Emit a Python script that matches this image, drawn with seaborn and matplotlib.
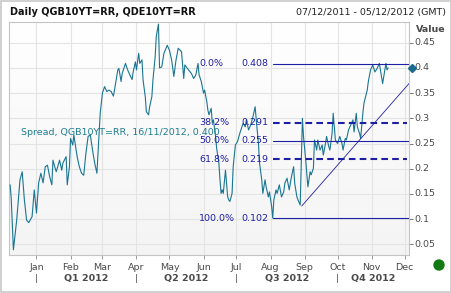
import numpy as np
import pandas as pd
import matplotlib
matplotlib.use("Agg")
import matplotlib.pyplot as plt
import matplotlib.dates as mdates
from matplotlib.colors import LinearSegmentedColormap
from matplotlib.patches import Ellipse, Rectangle
import seaborn as sns

# ---------------- data ----------------
start_date = "2011-12-07"
end_date = "2012-12-05"
day_offsets = [1, 2, 4, 7, 10, 12, 14, 16, 18, 21, 23, 25, 27, 29, 31, 33, 35, 37, 39, 40,
               42, 43, 46, 48, 49, 52, 53, 55, 56, 58, 59, 62, 64, 66, 68, 70, 72, 74, 76, 78,
               80, 82, 83, 85, 87, 89, 91, 93, 95, 96, 99, 100, 102, 103, 105, 106, 108, 110, 112, 113,
               115, 116, 118, 119, 121, 122, 124, 125, 127, 128, 130, 131, 133, 134, 136, 137, 139, 141, 144, 146,
               148, 150, 152, 154, 157, 159, 160, 163, 166, 168, 170, 172, 173, 175, 177, 178, 180, 181, 182, 184,
               185, 186, 188, 189, 191, 192, 193, 194, 195, 197, 198, 199, 200, 201, 203, 204, 206, 208, 210, 213,
               215, 216, 218, 220, 222, 224, 225, 227, 228, 230, 231, 233, 234, 236, 237, 239, 240, 241, 243, 244,
               246, 248, 250, 251, 253, 255, 257, 259, 260, 262, 263, 265, 267, 268, 270, 272, 274, 275, 277, 278,
               280, 281, 283, 285, 286, 288, 289, 291, 292, 294, 295, 296, 297, 299, 301, 303, 304, 306, 307, 309,
               311, 313, 314, 316, 317, 319, 320, 322, 323, 326, 327, 329, 331, 333, 335, 337, 339, 340, 342, 343,
               344, 345]
spread = [0.168, 0.142, 0.039, 0.098, 0.178, 0.194, 0.138, 0.098, 0.093, 0.105, 0.158, 0.112, 0.172, 0.191, 0.172, 0.204, 0.207, 0.184, 0.168, 0.217,
          0.201, 0.194, 0.217, 0.197, 0.211, 0.224, 0.168, 0.204, 0.260, 0.247, 0.267, 0.224, 0.204, 0.191, 0.187, 0.231, 0.264, 0.267, 0.237, 0.211,
          0.191, 0.270, 0.310, 0.350, 0.363, 0.353, 0.356, 0.353, 0.344, 0.356, 0.396, 0.399, 0.373, 0.389, 0.402, 0.409, 0.396, 0.386, 0.377, 0.392,
          0.412, 0.396, 0.429, 0.409, 0.416, 0.376, 0.343, 0.313, 0.307, 0.323, 0.343, 0.376, 0.422, 0.462, 0.487, 0.400, 0.402, 0.429, 0.445, 0.435,
          0.416, 0.383, 0.416, 0.439, 0.432, 0.379, 0.406, 0.397, 0.389, 0.379, 0.386, 0.409, 0.386, 0.373, 0.350, 0.356, 0.333, 0.316, 0.307, 0.320,
          0.290, 0.297, 0.264, 0.240, 0.211, 0.178, 0.151, 0.158, 0.151, 0.197, 0.171, 0.144, 0.138, 0.135, 0.151, 0.204, 0.247, 0.254, 0.270, 0.290,
          0.283, 0.297, 0.277, 0.287, 0.303, 0.323, 0.297, 0.250, 0.211, 0.178, 0.151, 0.178, 0.164, 0.144, 0.154, 0.125, 0.102, 0.138, 0.158, 0.151,
          0.168, 0.144, 0.154, 0.171, 0.181, 0.158, 0.184, 0.204, 0.171, 0.144, 0.138, 0.128, 0.300, 0.264, 0.217, 0.164, 0.194, 0.188, 0.201, 0.257,
          0.237, 0.257, 0.237, 0.247, 0.227, 0.250, 0.264, 0.244, 0.237, 0.270, 0.310, 0.283, 0.257, 0.250, 0.264, 0.250, 0.237, 0.260, 0.257, 0.277,
          0.287, 0.297, 0.273, 0.310, 0.283, 0.270, 0.260, 0.310, 0.330, 0.356, 0.373, 0.396, 0.406, 0.392, 0.399, 0.409, 0.383, 0.369, 0.396, 0.409,
          0.396, 0.400]

fib_levels = [0.408, 0.291, 0.255, 0.219, 0.102]
fib_pct_labels = ["0.0%", "38.2%", "50.0%", "61.8%", "100.0%"]
fib_value_labels = ["0.408", "0.291", "0.255", "0.219", "0.102"]
fib_dashed = [False, True, False, True, False]
fib_start_offset = 240          # day of the low the retracement is anchored to

trend_offsets = [266.4, 364]
trend_values = [0.126, 0.369]

last_value = 0.400
series_label = "Spread, QGB10YT=RR, 16/11/2012, 0.400"
title_left = "Daily QGB10YT=RR, QDE10YT=RR"
title_right = "07/12/2011 - 05/12/2012 (GMT)"
y_ticks = [0.05, 0.10, 0.15, 0.20, 0.25, 0.30, 0.35, 0.40, 0.45]
quarters = ["Q1 2012", "Q2 2012", "Q3 2012", "Q4 2012"]
quarter_starts = ["2012-01-01", "2012-04-01", "2012-07-01", "2012-10-01"]

# ---------------- build frames ----------------
t0 = pd.Timestamp(start_date)
df = pd.DataFrame({"date": t0 + pd.to_timedelta(day_offsets, unit="D"), "spread": spread})
trend_dates = t0 + pd.to_timedelta(trend_offsets, unit="D")
fib_start = t0 + pd.to_timedelta(fib_start_offset, unit="D")
x_end = pd.Timestamp(end_date)

sns.set_style("white")
plt.rcParams["font.family"] = ["DejaVu Sans"]

LINE = "#1a7593"
FIB = "#1f1fa6"
GREY = "#4a4a4a"
FS = 6.8

fig = plt.figure(figsize=(4.52, 2.93), dpi=100, facecolor="white")
ax = fig.add_axes([9 / 452, 38 / 293, 400 / 452, 233 / 293])

# subtle vertical gradient background
cmap = LinearSegmentedColormap.from_list("bg", ["#f4f4f4", "#ffffff"])
grad = np.linspace(0, 1, 100).reshape(-1, 1)
ax.imshow(grad, extent=[0, 1, 0, 1], transform=ax.transAxes, cmap=cmap,
          aspect="auto", origin="lower", zorder=0)

sns.lineplot(data=df, x="date", y="spread", ax=ax, color=LINE, lw=0.8, zorder=3)

# Fibonacci retracement lines
for lvl, dashed in zip(fib_levels, fib_dashed):
    if dashed:
        ax.plot([fib_start, x_end - pd.Timedelta(days=2)], [lvl, lvl], color=FIB, lw=1.5,
                ls=(0, (3.2, 2.0)), zorder=4)
    else:
        ax.plot([fib_start, x_end], [lvl, lvl], color=FIB, lw=0.8, zorder=4)
for lvl, pl, vl in zip(fib_levels, fib_pct_labels, fib_value_labels):
    ax.annotate(pl, xy=(fib_start, lvl), xytext=(-73.5, 0), textcoords="offset pixels",
                ha="left", va="center", fontsize=FS, color=FIB, zorder=5)
    ax.annotate(vl, xy=(fib_start, lvl), xytext=(-4.5, 0), textcoords="offset pixels",
                ha="right", va="center", fontsize=FS, color=FIB, zorder=5)

# trend line
ax.plot(trend_dates, trend_values, color=FIB, lw=0.6, zorder=4)

# series label
ax.text(0.029, 0.271, series_label, transform=ax.get_yaxis_transform(), ha="left", va="center",
        fontsize=FS, color="#1f7d8e", zorder=5)

# last value diamond on the axis
ax.plot([1.008], [last_value], marker="D", ms=4, color="#1c6a92",
        transform=ax.get_yaxis_transform(), clip_on=False, zorder=6)

ax.set_xlim(t0, x_end)
ax.set_ylim(0.0288, 0.4911)

# grid
ax.set_yticks(y_ticks)
ax.xaxis.set_major_locator(mdates.MonthLocator())
ax.xaxis.set_major_formatter(mdates.DateFormatter("%b"))
ax.grid(True, color="#e4e4e4", lw=0.8, zorder=1)
ax.set_axisbelow(True)

ax.yaxis.tick_right()
ax.yaxis.set_major_formatter(matplotlib.ticker.FuncFormatter(lambda v, p: f"{v:g}"))
ax.tick_params(axis="y", which="both", right=True, left=False, length=3, width=0.7,
               color="#777777", pad=1, labelsize=FS, labelcolor=GREY)
ax.tick_params(axis="x", bottom=True, length=3, width=0.7, color="#999999", pad=2.5,
               labelsize=FS, labelcolor=GREY)
for lab in ax.get_yticklabels():
    lab.set_verticalalignment("center")
ax.set_xlabel("")
ax.set_ylabel("")
for s in ax.spines.values():
    s.set_color("#c4c4c4")
    s.set_linewidth(0.8)

# quarter row
xa = ax.get_xaxis_transform()
qs = [pd.Timestamp(q) for q in quarter_starts] + [x_end]
for i, name in enumerate(quarters):
    mid = qs[i] + (qs[i + 1] - qs[i]) / 2
    ax.text(mid, -0.103, name, transform=xa, ha="center", va="center",
            fontsize=FS, fontweight="bold", color=GREY, clip_on=False)
    ax.text(qs[i], -0.103, "|", transform=xa, ha="center", va="center",
            fontsize=FS, color=GREY, clip_on=False)

# titles
fig.text(10 / 452, 1 - 12 / 293, title_left, ha="left", va="center", fontsize=7,
         fontweight="bold", color="#111111")
fig.text(446 / 452, 1 - 12 / 293, title_right, ha="right", va="center", fontsize=6.8,
         color="#222222")
fig.text(446 / 452, 1 - 30 / 293, "Value", ha="right", va="center", fontsize=FS,
         fontweight="bold", color=GREY)

# status dot
fig.add_artist(Ellipse((439 / 452, 1 - 265 / 293), 10 / 452, 10 / 293,
                       transform=fig.transFigure, color="#137a13"))
# outer frame
fig.add_artist(Rectangle((0.002, 0.003), 0.996, 0.994, transform=fig.transFigure,
                         fill=False, ec="#c8c8c8", lw=1.2))

fig.savefig("out.png", dpi=100, facecolor="white")
